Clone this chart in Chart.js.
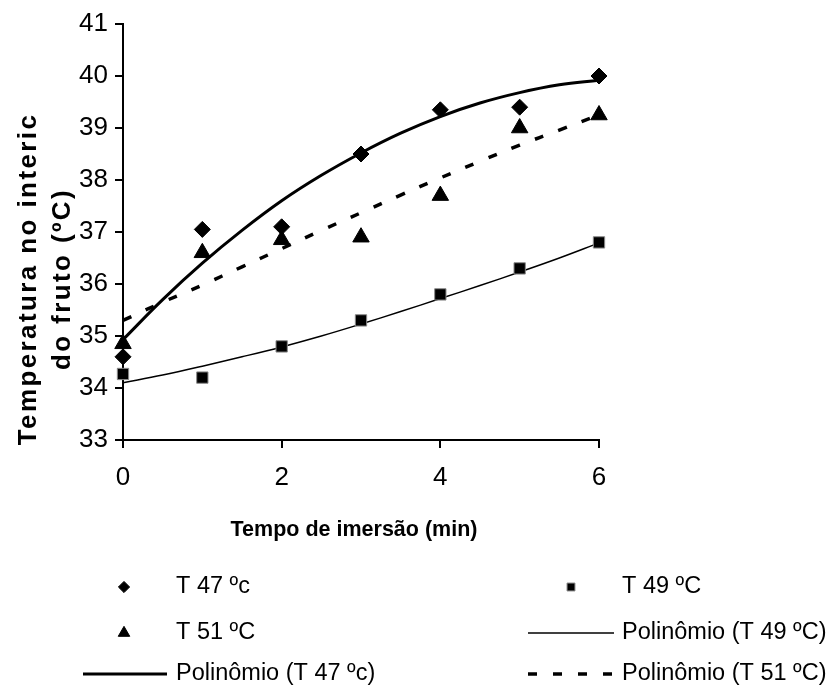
<!DOCTYPE html>
<html>
<head>
<meta charset="utf-8">
<script src="https://cdn.jsdelivr.net/npm/chart.js"></script>
<style>
  body{margin:0;background:#fff}
  #wrap{width:829px;height:686px}
</style>
</head>
<body>
<div id="wrap"><canvas id="chart" width="829" height="686"></canvas></div>
<script>
const tempo = [0, 1, 2, 3, 4, 5, 6]
const t47 = [34.6, 37.05, 37.1, 38.5, 39.35, 39.4, 40.0]
const t49 = [34.27, 34.2, 34.8, 35.3, 35.8, 36.3, 36.8]
const t51 = [34.85, 36.6, 36.85, 36.9, 37.7, 39.0, 39.25]

const tempoCurva = [0, 0.5, 1, 1.5, 2, 2.5, 3, 3.5, 4, 4.5, 5, 5.5, 6]
const poli47 = [34.93, 35.7, 36.4, 37.03, 37.6, 38.09, 38.52, 38.9, 39.22, 39.48, 39.68, 39.83, 39.92]
const poli49 = [34.1, 34.25, 34.42, 34.6, 34.79, 35.0, 35.23, 35.47, 35.72, 35.97, 36.23, 36.5, 36.79]
const poli51 = [35.3, 35.65, 35.98, 36.33, 36.68, 37.03, 37.37, 37.71, 38.04, 38.36, 38.67, 38.96, 39.25]

const xTicks = [0, 2, 4, 6]
const yTicks = [33, 34, 35, 36, 37, 38, 39, 40, 41]

const nomes = ['T 47 ºc', 'T 49 ºC', 'T 51 ºC', 'Polinômio (T 47 ºc)', 'Polinômio (T 49 ºC)', 'Polinômio (T 51 ºC)']
const tituloX = 'Tempo de imersão (min)'
const tituloY = ['Temperatura no interic', 'do fruto (ºC)']

const fonte = '"Liberation Sans", Arial, sans-serif'

const pares = (xs, ys) => xs.map((x, i) => ({x: x, y: ys[i]}))

// desenha um marcador igual ao do dataset
function marcador(ctx, ds, x, y, r){
    ctx.save()
    ctx.fillStyle = ds.backgroundColor
    ctx.strokeStyle = ds.borderColor
    ctx.lineWidth = ds.borderWidth
    ctx.beginPath()
    if(ds.pointStyle === 'rectRot'){
        ctx.moveTo(x - r, y); ctx.lineTo(x, y - r); ctx.lineTo(x + r, y); ctx.lineTo(x, y + r)
    }else if(ds.pointStyle === 'triangle'){
        ctx.moveTo(x, y - r)
        ctx.lineTo(x + r * Math.sin(2 * Math.PI / 3), y - r * Math.cos(2 * Math.PI / 3))
        ctx.lineTo(x + r * Math.sin(4 * Math.PI / 3), y - r * Math.cos(4 * Math.PI / 3))
    }else{
        const s = r * Math.SQRT1_2
        ctx.rect(x - s, y - s, 2 * s, 2 * s)
    }
    ctx.closePath()
    ctx.fill()
    if(ds.borderWidth) ctx.stroke()
    ctx.restore()
}

// texto com espacamento entre letras
function texto(ctx, str, x, y, esp){
    if('letterSpacing' in ctx){
        ctx.letterSpacing = esp + 'px'
        ctx.fillText(str, x, y)
        ctx.letterSpacing = '0px'
    }else{
        ctx.fillText(str, x, y)
    }
}

const extras = {
    id: 'extras',
    afterDraw(chart){
        const ctx = chart.ctx
        const ds = chart.data.datasets
        ctx.save()
        ctx.fillStyle = '#000'

        // titulo do eixo x
        ctx.font = 'bold 21.5px ' + fonte
        ctx.textAlign = 'center'
        ctx.textBaseline = 'alphabetic'
        texto(ctx, tituloX, 354, 536, 0)

        // titulo do eixo y (duas linhas)
        ctx.save()
        ctx.font = 'bold 26px ' + fonte
        ctx.textAlign = 'center'
        ctx.translate(0, 279)
        ctx.rotate(-Math.PI / 2)
        texto(ctx, tituloY[0], 0, 36, 2.4)
        texto(ctx, tituloY[1], 0, 70, 2.4)
        ctx.restore()

        // legenda em duas colunas
        const col = [{cx: 124, x0: 83, x1: 167, tx: 176}, {cx: 571, x0: 528, x1: 614, tx: 622}]
        const lin = [587, 633, 674]
        const itens = [[0, 0, 0], [1, 1, 0], [2, 0, 1], [4, 1, 1], [3, 0, 2], [5, 1, 2]]
        ctx.font = '23.5px ' + fonte
        ctx.textAlign = 'left'
        ctx.textBaseline = 'middle'
        itens.forEach(([i, c, l]) => {
            const d = ds[i]
            const y = lin[l]
            if(d.showLine){
                ctx.save()
                ctx.strokeStyle = d.borderColor
                ctx.lineWidth = d.borderWidth
                ctx.setLineDash(d.borderDash || [])
                ctx.beginPath()
                ctx.moveTo(col[c].x0, y)
                ctx.lineTo(col[c].x1, y)
                ctx.stroke()
                ctx.restore()
            }else{
                marcador(ctx, d, col[c].cx, y, d.pointRadius * 0.7)
            }
            ctx.fillText(nomes[i], col[c].tx, y)
        })
        ctx.restore()
    }
}

const pontoBase = {showLine: false, clip: false, order: 0, backgroundColor: '#000', borderColor: '#000', borderWidth: 1}
const linhaBase = {showLine: true, clip: false, order: 1, pointRadius: 0, tension: 0.4, borderColor: '#000', backgroundColor: '#000'}

new Chart(document.getElementById('chart'), {
    type: 'scatter',
    data: {
        datasets: [
            {...pontoBase, label: nomes[0], data: pares(tempo, t47), pointStyle: 'rectRot', pointRadius: 8},
            {...pontoBase, label: nomes[1], data: pares(tempo, t49), pointStyle: 'rect', pointRadius: 8, borderColor: '#8a8a8a'},
            {...pontoBase, label: nomes[2], data: pares(tempo, t51), pointStyle: 'triangle', pointRadius: 9.5},
            {...linhaBase, label: nomes[3], data: pares(tempoCurva, poli47), borderWidth: 3},
            {...linhaBase, label: nomes[4], data: pares(tempoCurva, poli49), borderWidth: 1.5},
            {...linhaBase, label: nomes[5], data: pares(tempoCurva, poli51), borderWidth: 3.5, borderDash: [9, 16]}
        ]
    },
    options: {
        responsive: false,
        animation: false,
        events: [],
        layout: {padding: {top: 24, right: 230, left: 0, bottom: 0}},
        plugins: {legend: {display: false}, tooltip: {enabled: false}},
        scales: {
            x: {
                type: 'linear', min: 0, max: 6,
                afterBuildTicks: s => { s.ticks = xTicks.map(v => ({value: v})) },
                afterFit: s => { s.height = 246 },
                border: {display: true, color: '#000', width: 2},
                grid: {drawOnChartArea: false, drawTicks: true, tickLength: 8, color: '#000', lineWidth: 2},
                ticks: {color: '#000', padding: 14, maxRotation: 0, font: {family: fonte, size: 26}}
            },
            y: {
                type: 'linear', min: 33, max: 41,
                afterBuildTicks: s => { s.ticks = yTicks.map(v => ({value: v})) },
                afterFit: s => { s.width = 123 },
                border: {display: true, color: '#000', width: 2},
                grid: {drawOnChartArea: false, drawTicks: true, tickLength: 8, color: '#000', lineWidth: 2},
                ticks: {color: '#000', padding: 7, font: {family: fonte, size: 26}}
            }
        }
    },
    plugins: [extras]
})
</script>
</body>
</html>
